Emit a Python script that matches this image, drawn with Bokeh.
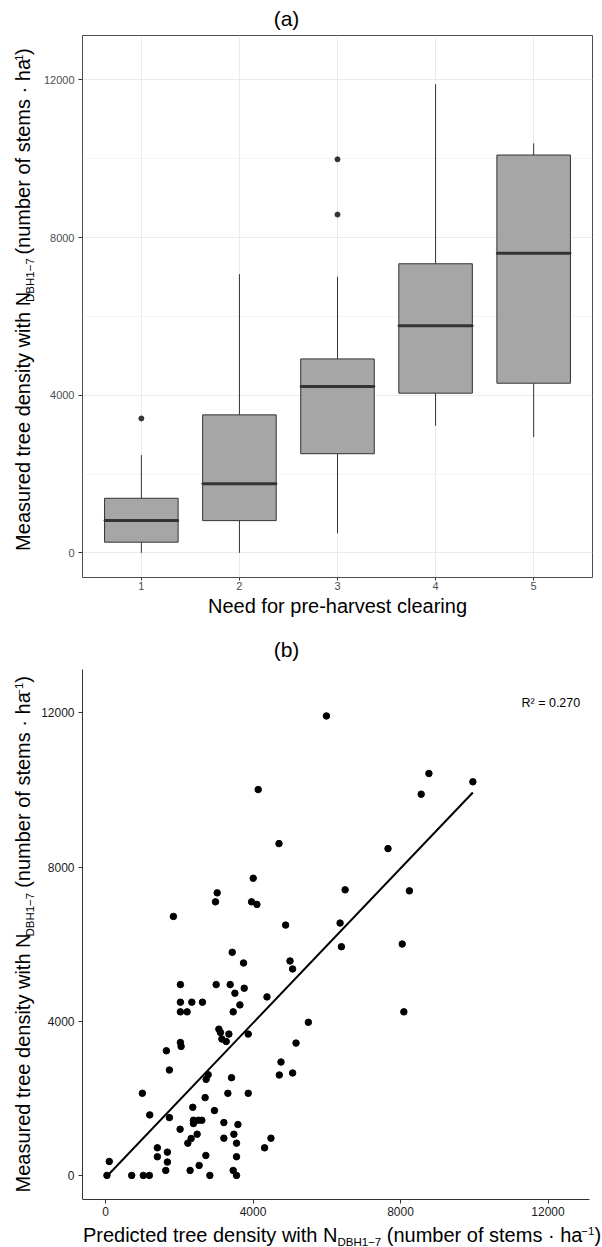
import math
from bokeh.plotting import figure
from bokeh.models import Range1d, FixedTicker, Label
from bokeh.layouts import column, row
from bokeh.embed import file_html
from bokeh.resources import INLINE

# ---------------- data: panel (a) boxplot ----------------
clearing_need = [1, 2, 3, 4, 5]
box_q1 = [271, 818, 2515, 4051, 4304]
box_median = [818, 1755, 4219, 5764, 7603]
box_q3 = [1385, 3501, 4920, 7334, 10093]
whisker_low = [0, 0, 498, 3224, 2937]
whisker_high = [2481, 7071, 7005, 11890, 10388]
outlier_need = [1, 3, 3]
outlier_density = [3410, 8582, 9983]

# ---------------- data: panel (b) scatter ----------------
predicted = [4140, 5990, 8770, 8560, 9962, 4704, 7660, 4005, 3027, 2982,
             3960, 4105, 1840, 6497, 8240, 4883, 6361, 6397, 8046, 5003,
             5073, 3435, 3742, 2030, 3000, 3380, 3761, 3508, 4378, 2030,
             2340, 2628, 3644, 2030, 2212, 3462, 8090, 5500, 3073, 3117,
             3345, 3870, 3155, 3272, 2030, 2049, 5166, 1650, 4758, 1732,
             2783, 2728, 3417, 4712, 5073, 998, 3317, 3870, 2701, 2366,
             2954, 1198, 1732, 2383, 2519, 2611, 2383, 3209, 3590, 2022,
             2484, 3481, 2321, 3209, 4486, 2231, 3552, 1405, 4313, 1677,
             1405, 2720, 3552, 1677, 101, 2538, 1633, 2293, 3462, 38,
             709, 1024, 1188, 2829, 3552]
measured = [10010, 11920, 10427, 9890, 10212, 8608, 8478, 7710, 7330, 7097,
            7097, 7030, 6719, 7408, 7382, 6494, 6546, 5933, 6003, 5563,
            5356, 5788, 5511, 4950, 4950, 4950, 4856, 4727, 4631, 4494,
            4494, 4494, 4424, 4243, 4243, 4243, 4243, 3972, 3795, 3708,
            3666, 3666, 3537, 3475, 3449, 3346, 3433, 3234, 2941, 2734,
            2613, 2492, 2536, 2605, 2657, 2130, 2130, 2130, 2018, 1767,
            1682, 1570, 1500, 1431, 1431, 1431, 1345, 1371, 1320, 1198,
            1069, 1069, 957, 966, 966, 836, 836, 716, 716, 604,
            484, 517, 484, 345, 362, 259, 129, 129, 129, 0,
            0, 0, 0, 0, 0]
fit_predicted = [38, 9962]
fit_measured = [-21, 9935]

density_ticks = [0, 4000, 8000, 12000]
density_minor = [2000, 6000, 10000]
r2_text = "R² = 0.270"
title_a = "(a)"
title_b = "(b)"
xlabel_a = "Need for pre-harvest clearing"

FONT = "Liberation Sans"
LIM = (-625, 13125)
MID = 0.35   # em distance from baseline up to the em-box middle

# Arial / Liberation Sans advance widths (1/1000 em)
W = {' ': 278, '(': 333, ')': 333, '-': 333, '.': 278, '·': 278, '−': 584,
     '=': 584, '²': 333, 'A': 667, 'B': 667, 'C': 722, 'D': 722, 'E': 667,
     'H': 722, 'M': 833, 'N': 722, 'P': 667, 'R': 722,
     'a': 556, 'b': 556, 'c': 500, 'd': 556, 'e': 556, 'f': 278, 'g': 556,
     'h': 556, 'i': 222, 'l': 222, 'm': 833, 'n': 556, 'o': 556, 'p': 556,
     'r': 333, 's': 500, 't': 278, 'u': 556, 'v': 500, 'w': 722, 'y': 500}


def tw(s, size):
    return sum(W.get(c, 556) for c in s) * size / 1000.0


def total_len(pieces):
    return sum(tw(t, s) for t, s, _ in pieces)


def strip(w, h):
    """A text-only figure whose frame is the whole canvas; data units = pixels from top-left."""
    f = figure(width=w, height=h, x_range=Range1d(0, w), y_range=Range1d(h, 0),
               output_backend="svg", toolbar_location=None,
               x_axis_type=None, y_axis_type=None,
               min_border_left=0, min_border_right=0,
               min_border_top=0, min_border_bottom=0)
    f.outline_line_color = None
    f.background_fill_color = "white"
    f.border_fill_color = "white"
    return f


def put(f, x, y, text, size, align="left", angle=0.0, color="black"):
    f.add_layout(Label(x=x, y=y, text=text, angle=angle, text_align=align,
                       text_baseline="middle", text_font=FONT,
                       text_font_size=f"{size}px", text_color=color))


def composite(f, pieces, start, base, vertical, fx, fy):
    """Lay out pieces (page pixels) along a line; base = main baseline ('down' positive)."""
    pos = start
    for txt, size, shift in pieces:
        c = base - shift - MID * size
        body = txt.lstrip(" ")
        lead = tw(txt[:len(txt) - len(body)], size)   # svg drops leading blanks
        if vertical:
            put(f, fx(c), fy(pos - lead), body, size, angle=math.pi / 2)
            pos -= tw(txt, size)
        else:
            put(f, fx(pos + lead), fy(c), body, size)
            pos += tw(txt, size)


def label_pieces(lead):
    return [(lead + " N", 20, 0), ("DBH1−7", 11.5, -4),
            (" (number of stems · ha", 20, 0), ("−1", 11.5, 7), (")", 20, 0)]


ylab = label_pieces("Measured tree density with")
xlab_b = label_pieces("Predicted tree density with")


def style_axes(p, size, color, line_color):
    for ax in (p.xaxis[0], p.yaxis[0]):
        ax.axis_line_color = line_color
        ax.axis_line_width = 1
        ax.major_tick_line_color = "#333333"
        ax.major_tick_out = 4
        ax.major_tick_in = 0
        ax.minor_tick_line_color = None
        ax.major_label_text_font = FONT
        ax.major_label_text_font_size = size
        ax.major_label_text_color = color


# ---------------- panel (a) ----------------
# page layout (px): frame x 82..592, y 35..577
top_a = strip(602, 30)                       # page y 0..30
put(top_a, 286, 17.5, title_a, 21, align="center")

ylab_a = strip(38, 564)                      # page x 0..38, y 30..594
composite(ylab_a, ylab, 305 + total_len(ylab) / 2, 29.5, True,
          lambda px: px, lambda py: py - 30)

pa = figure(width=564, height=564, output_backend="svg", toolbar_location=None,
            x_range=Range1d(0.4, 5.6), y_range=Range1d(*LIM),
            min_border_left=44, min_border_right=10,
            min_border_top=5, min_border_bottom=17)
pa.background_fill_color = "white"
pa.border_fill_color = "white"
pa.outline_line_color = "#4D4D4D"
pa.outline_line_width = 1
pa.xaxis.ticker = FixedTicker(ticks=clearing_need)
pa.yaxis.ticker = FixedTicker(ticks=density_ticks, minor_ticks=density_minor)
style_axes(pa, "11px", "#4D4D4D", None)
pa.xaxis.major_tick_out = 3
pa.xaxis.major_label_standoff = 1
pa.yaxis.major_label_standoff = 4
pa.grid.grid_line_color = "#EBEBEB"
pa.grid.grid_line_width = 1
pa.ygrid.minor_grid_line_color = "#EBEBEB"
pa.ygrid.minor_grid_line_width = 0.5

pa.segment(x0=clearing_need, y0=whisker_low, x1=clearing_need, y1=box_q1,
           line_color="#333333", line_width=1)
pa.segment(x0=clearing_need, y0=box_q3, x1=clearing_need, y1=whisker_high,
           line_color="#333333", line_width=1)
pa.vbar(x=clearing_need, width=0.75, bottom=box_q1, top=box_q3,
        fill_color="#A6A6A6", line_color="#333333", line_width=1)
pa.rect(x=clearing_need, y=box_median, width=0.75, height=1, height_units="screen",
        fill_color=None, line_color="#333333", line_width=2)
pa.scatter(x=outlier_need, y=outlier_density, size=5, color="#333333")

xlab_a = strip(602, 26)                      # page y 594..620
put(xlab_a, 337, 11.5, xlabel_a, 20, align="center")

# ---------------- panel (b) ----------------
# page layout (px): data frame x 82..589, y 669..1199; canvas runs on to the page bottom
BL, BR, BT, BB = 82, 589, 669, 1199
PAGE_W, PAGE_H = 602, 1247
ux = (LIM[1] - LIM[0]) / (BR - BL)
uy = (LIM[1] - LIM[0]) / (BB - BT)

top_b = strip(602, 42)                       # page y 620..662
put(top_b, 286, 29, title_b, 21, align="center")

ylab_bf = strip(38, PAGE_H - 662)            # page x 0..38, y 662..1247
composite(ylab_bf, ylab, 930 + total_len(ylab) / 2, 29.5, True,
          lambda px: px, lambda py: py - 662)

pb = figure(width=PAGE_W - 38, height=PAGE_H - 662, output_backend="svg",
            toolbar_location=None,
            x_range=Range1d(LIM[0], LIM[1] + (PAGE_W - BR) * ux),
            y_range=Range1d(LIM[0] - (PAGE_H - BB) * uy, LIM[1]),
            min_border_left=BL - 38, min_border_right=0,
            min_border_top=BT - 662, min_border_bottom=0)
pb.background_fill_color = "white"
pb.border_fill_color = "white"
pb.outline_line_color = None
pb.grid.grid_line_color = None
pb.xaxis.ticker = FixedTicker(ticks=density_ticks)
pb.yaxis.ticker = FixedTicker(ticks=density_ticks)
style_axes(pb, "12px", "#1A1A1A", "#333333")
pb.xaxis.fixed_location = LIM[0]
pb.xaxis.bounds = LIM
pb.yaxis.bounds = LIM
pb.xaxis.major_label_standoff = 3
pb.yaxis.major_label_standoff = 4


def b_x(px):
    return LIM[0] + (px - BL) * ux


def b_y(py):
    return LIM[0] + (BB - py) * uy


pb.line(x=fit_predicted, y=fit_measured, line_color="black", line_width=2)
pb.scatter(x=predicted, y=measured, size=6.5, color="black")
pb.add_layout(Label(x=b_x(521), y=b_y(702.5), text=r2_text, text_align="left",
                    text_baseline="middle", text_font=FONT,
                    text_font_size="12.5px", text_color="black"))
composite(pb, xlab_b, 341.5 - total_len(xlab_b) / 2, 1241.5, False, b_x, b_y)

layout = column(top_a, row(ylab_a, pa, spacing=0), xlab_a,
                top_b, row(ylab_bf, pb, spacing=0), spacing=0)
open("out.html", "w").write(file_html(layout, INLINE))
